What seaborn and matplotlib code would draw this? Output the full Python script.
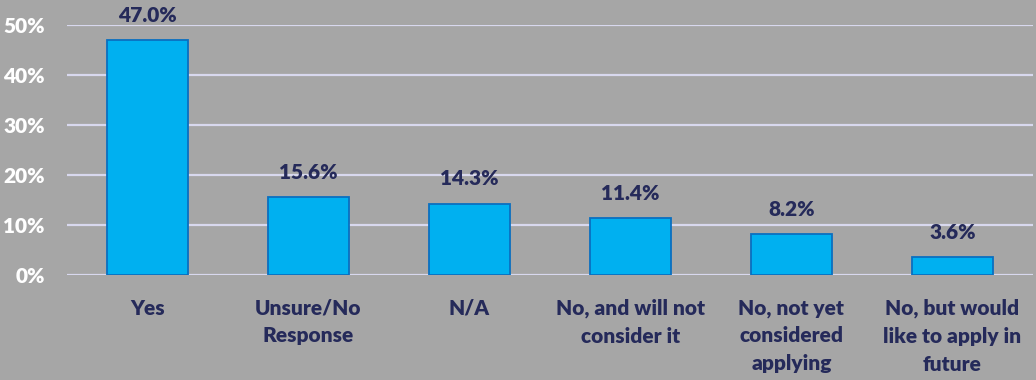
import seaborn as sns
import matplotlib.pyplot as plt
import pandas as pd

categories = ['Yes', 'Unsure/No\nResponse', 'N/A', 'No, and will not\nconsider it',
              'No, not yet\nconsidered\napplying', 'No, but would\nlike to apply in\nfuture']
values = [47.0, 15.6, 14.3, 11.4, 8.2, 3.6]
yticks = [0, 10, 20, 30, 40, 50]

bg = '#a6a6a6'
navy = '#252a5a'

sns.set_style('white')
plt.rcParams['font.family'] = ['Lato', 'DejaVu Sans']
plt.rcParams['font.weight'] = 'bold'

df = pd.DataFrame({'cat': categories, 'val': values})

fig = plt.figure(figsize=(10.36, 3.8), dpi=100, facecolor=bg)
ax = fig.add_axes([0.0647, 0.2763, 0.9323, 0.6579])
ax.set_facecolor(bg)

sns.barplot(data=df, x='cat', y='val', color='#00b0f0', edgecolor='#0a6fc0',
            linewidth=1.3, width=0.5, saturation=1, ax=ax, zorder=3)

ax.set_ylim(0, 50)
ax.set_xlim(-0.5, len(categories) - 0.5)
ax.set_yticks(yticks)
ax.set_yticklabels([f'{t}%' for t in yticks], color='white', fontsize=15, fontweight='heavy')
ax.tick_params(axis='y', length=0, pad=16)
ax.tick_params(axis='x', length=0, pad=17, labelsize=15, labelcolor=navy)
for lab in ax.get_xticklabels():
    lab.set_fontweight('heavy')
    lab.set_linespacing(1.55)
ax.grid(axis='y', color='#d8d8ee', linewidth=1.6, zorder=0)
ax.set_axisbelow(True)
for s in ax.spines.values():
    s.set_visible(False)
ax.set_xlabel('')
ax.set_ylabel('')

for i, v in enumerate(values):
    ax.annotate(f'{v:.1f}%', (i, v), xytext=(0, 18), textcoords='offset points',
                ha='center', va='center', fontsize=15, fontweight='heavy', color=navy,
                annotation_clip=False)

fig.savefig('out.png', dpi=100, facecolor=bg)
